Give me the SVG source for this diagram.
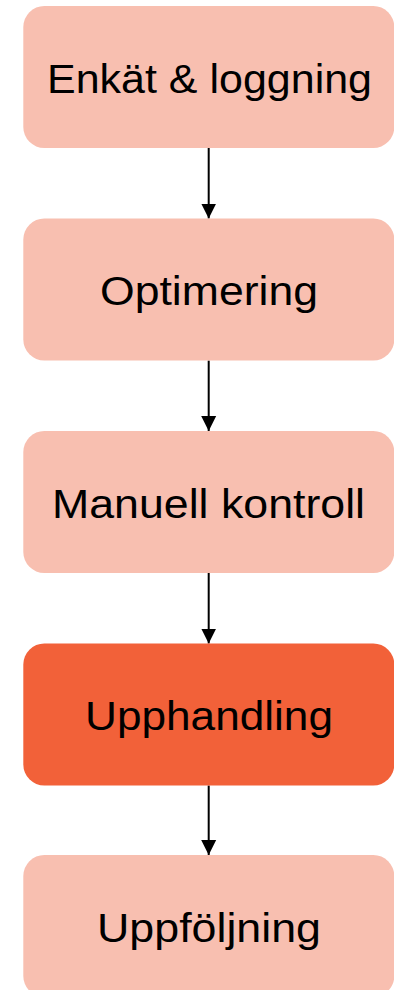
<svg xmlns="http://www.w3.org/2000/svg" width="394" height="990" viewBox="0 0 394 990">
<style>
  .box { fill: #F8BFB0; }
  .active { fill: #F26139; }
  .lbl { font-family: "Liberation Sans", Arial, sans-serif; font-size: 41px; fill: #000; text-anchor: middle; }
  .conn { stroke: #000; stroke-width: 2; fill: none; }
</style>
<defs>
  <marker id="arrow" markerUnits="userSpaceOnUse" markerWidth="16" markerHeight="16" refX="15" refY="8" orient="auto">
    <path d="M0,0.5 L15,8 L0,15.5 Z" fill="#000"/>
  </marker>
</defs>
<rect width="394" height="990" fill="#fff"/>
<g id="connectors">
  <line class="conn" x1="208.7" y1="148" x2="208.7" y2="218.5" marker-end="url(#arrow)"/>
  <line class="conn" x1="208.7" y1="360.5" x2="208.7" y2="431" marker-end="url(#arrow)"/>
  <line class="conn" x1="208.7" y1="573" x2="208.7" y2="643.5" marker-end="url(#arrow)"/>
  <line class="conn" x1="208.7" y1="785.5" x2="208.7" y2="855" marker-end="url(#arrow)"/>
</g>
<g id="node-enkat">
  <rect class="box" x="23.3" y="6" width="371" height="142" rx="21"/>
  <text class="lbl" x="209.5" y="93" textLength="325" lengthAdjust="spacingAndGlyphs">Enkät &amp; loggning</text>
</g>
<g id="node-optimering">
  <rect class="box" x="23.3" y="218.5" width="371" height="142" rx="21"/>
  <text class="lbl" x="209" y="305.3" textLength="218" lengthAdjust="spacingAndGlyphs">Optimering</text>
</g>
<g id="node-manuell">
  <rect class="box" x="23.3" y="431" width="371" height="142" rx="21"/>
  <text class="lbl" x="208.5" y="517.5" textLength="313" lengthAdjust="spacingAndGlyphs">Manuell kontroll</text>
</g>
<g id="node-upphandling">
  <rect class="active" x="23.3" y="643.5" width="371" height="142" rx="21"/>
  <text class="lbl" x="209" y="730" textLength="248" lengthAdjust="spacingAndGlyphs">Upphandling</text>
</g>
<g id="node-uppfoljning">
  <rect class="box" x="23.3" y="855" width="371" height="142" rx="21"/>
  <text class="lbl" x="209" y="941.5" textLength="224" lengthAdjust="spacingAndGlyphs">Uppföljning</text>
</g>
</svg>
